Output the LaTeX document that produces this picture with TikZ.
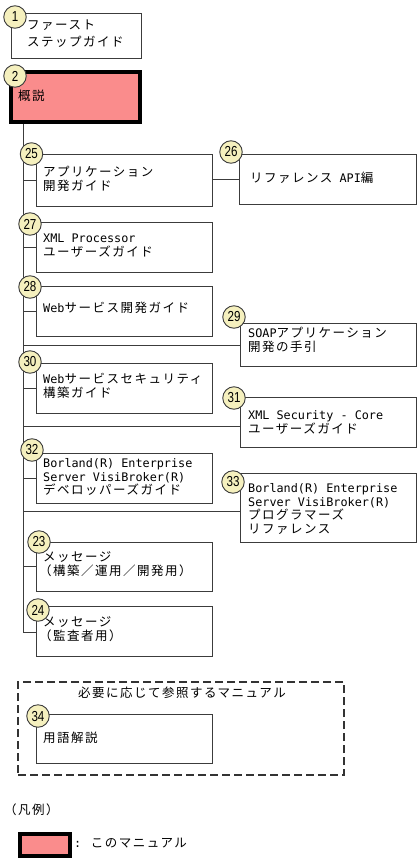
\documentclass[tikz,border=0pt]{standalone}
\usepackage{fontspec}
\usepackage{graphicx}
\newfontfamily\jpf[LetterSpace=12]{Noto Sans CJK JP}
\newfontfamily\mnf{DejaVu Sans Mono}
\newfontfamily\numf{Liberation Sans}
\newcommand\mn[1]{{\mnf\fontsize{11.8}{13.6}\selectfont #1}}
\newcommand\nm[1]{\scalebox{0.8}[1]{#1}}
\newcommand\st{\rule{0pt}{11pt}}
\newcommand\pl{\hspace*{-4pt}}
\definecolor{pinkfill}{RGB}{250,140,140}
\definecolor{circfill}{RGB}{245,240,190}
\definecolor{edge}{RGB}{60,60,60}
\begin{document}
\begin{tikzpicture}[x=1pt,y=-1pt,
  bx/.style={draw=edge, line width=0.9pt, fill=white, rectangle, inner sep=0pt, outer sep=0pt, anchor=north west},
  thisbox/.style={draw=black, line width=4pt, fill=pinkfill, rectangle, inner sep=0pt, outer sep=0pt},
  tx/.style={font=\jpf\fontsize{12.5}{13.8}\selectfont, align=left, inner sep=0pt, anchor=north west},
  num/.style={circle, draw=edge, fill=circfill, line width=0.9pt, minimum size=22.5pt, inner sep=0pt, font=\numf\fontsize{14.5}{14.5}\selectfont},
  ln/.style={draw=edge, line width=0.9pt},
  dashbox/.style={draw=black!80, line width=1.2pt, dash pattern=on 8pt off 4pt, rectangle, inner sep=0pt, outer sep=0pt, anchor=north west}
]
\useasboundingbox[fill=white] (0,0) rectangle (419,861);

% boxes
\node[bx, minimum width=130pt, minimum height=45pt] (b1) at (11,13) {};
\node[thisbox, minimum width=129pt, minimum height=50pt] (b2) at (75.5,97) {};
\node[bx, minimum width=176pt, minimum height=52pt] (b25) at (36,154) {};
\node[bx, minimum width=177pt, minimum height=50pt] (b26) at (239,154) {};
\node[bx, minimum width=176pt, minimum height=50pt] (b27) at (36,222) {};
\node[bx, minimum width=176pt, minimum height=50pt] (b28) at (36,286) {};
\node[bx, minimum width=176pt, minimum height=43pt] (b29) at (240,323) {};
\node[bx, minimum width=176pt, minimum height=50pt] (b30) at (36,363) {};
\node[bx, minimum width=176pt, minimum height=50pt] (b31) at (240,397) {};
\node[bx, minimum width=176pt, minimum height=50pt] (b32) at (36,453) {};
\node[bx, minimum width=176pt, minimum height=69pt] (b33) at (240,473) {};
\node[bx, minimum width=176pt, minimum height=49pt] (b23) at (36,542) {};
\node[bx, minimum width=176pt, minimum height=50pt] (b24) at (36,606) {};
\node[dashbox, minimum width=326pt, minimum height=93pt] (opt) at (18,682) {};
\node[bx, minimum width=176pt, minimum height=49pt] (b34) at (36,714) {};
\node[thisbox, minimum width=50pt, minimum height=22pt] (leg) at (45,845) {};

% connectors
\coordinate (tTop) at (23,124);
\coordinate (tBot) at (23,632);
\coordinate (j29) at (23,345);
\coordinate (j31) at (23,426);
\coordinate (j33) at (23,511);
\draw[ln] (tTop) -- (tBot) -- (tBot -| b24.west);
\foreach \b in {b25,b27,b28,b30,b32,b23}{
  \draw[ln] (\b.west -| tTop) -- (\b.west);
}
\draw[ln] (b26.west -| b25.east) -- (b26.west);
\draw[ln] (j29) -- (j29 -| b29.west);
\draw[ln] (j31) -- (j31 -| b31.west);
\draw[ln] (j33) -- (j33 -| b33.west);

% texts
\node[tx, font=\jpf\fontsize{12.5}{17}\selectfont] (t1) at (27,18.5) {\st ファースト\\ステップガイド};
\node[tx] (t2) at (18,89.5) {\st 概説};
\node[tx] (t25) at (43,165.5) {\st アプリケーション\\開発ガイド};
\node[tx] (t26) at (250,171.5) {\st リファレンス\mn{ API}編};
\node[tx] (t27) at (43,231) {\st\mn{XML Processor}\\ユーザーズガイド};
\node[tx] (t28) at (43,301.5) {\st\mn{Web}サービス開発ガイド};
\node[tx] (t29) at (248,326.5) {\st\mn{SOAP}アプリケーション\\開発の手引};
\node[tx] (t30) at (43,372.5) {\st\mn{Web}サービスセキュリティ\\構築ガイド};
\node[tx] (t31) at (248,408) {\st\mn{XML Security - Core}\\ユーザーズガイド};
\node[tx] (t32) at (43,456) {\st\mn{Borland(R) Enterprise}\\\mn{Server VisiBroker(R)}\\デベロッパーズガイド};
\node[tx] (t33) at (248,481) {\st\mn{Borland(R) Enterprise}\\\mn{Server VisiBroker(R)}\\プログラマーズ\\リファレンス};
\node[tx] (t23) at (43,550.5) {\st メッセージ\\\pl（構築／運用／開発用）};
\node[tx] (t24) at (43,615.5) {\st メッセージ\\\pl（監査者用）};
\node[tx, anchor=center] (topt) at (182,693) {必要に応じて参照するマニュアル};
\node[tx] (t34) at (43,731.5) {\st 用語解説};
\node[tx, anchor=west] (lgt) at (4,810) {（凡例）};
\node[tx, anchor=west] (lgd) at (74,843) {\mn{: }このマニュアル};

% numbers
\node[num] (n1) at (15,17) {\nm{1}};
\node[num] (n2) at (15,76) {\nm{2}};
\node[num] (n25) at (31.5,154) {\nm{25}};
\node[num] (n26) at (231,152) {\nm{26}};
\node[num] (n27) at (30,224) {\nm{27}};
\node[num] (n28) at (30,287) {\nm{28}};
\node[num] (n29) at (234,317) {\nm{29}};
\node[num] (n30) at (30,362) {\nm{30}};
\node[num] (n31) at (234,398) {\nm{31}};
\node[num] (n32) at (32,450) {\nm{32}};
\node[num] (n33) at (233,482) {\nm{33}};
\node[num] (n23) at (39,542) {\nm{23}};
\node[num] (n24) at (38,610) {\nm{24}};
\node[num] (n34) at (38,716) {\nm{34}};
\end{tikzpicture}
\end{document}
